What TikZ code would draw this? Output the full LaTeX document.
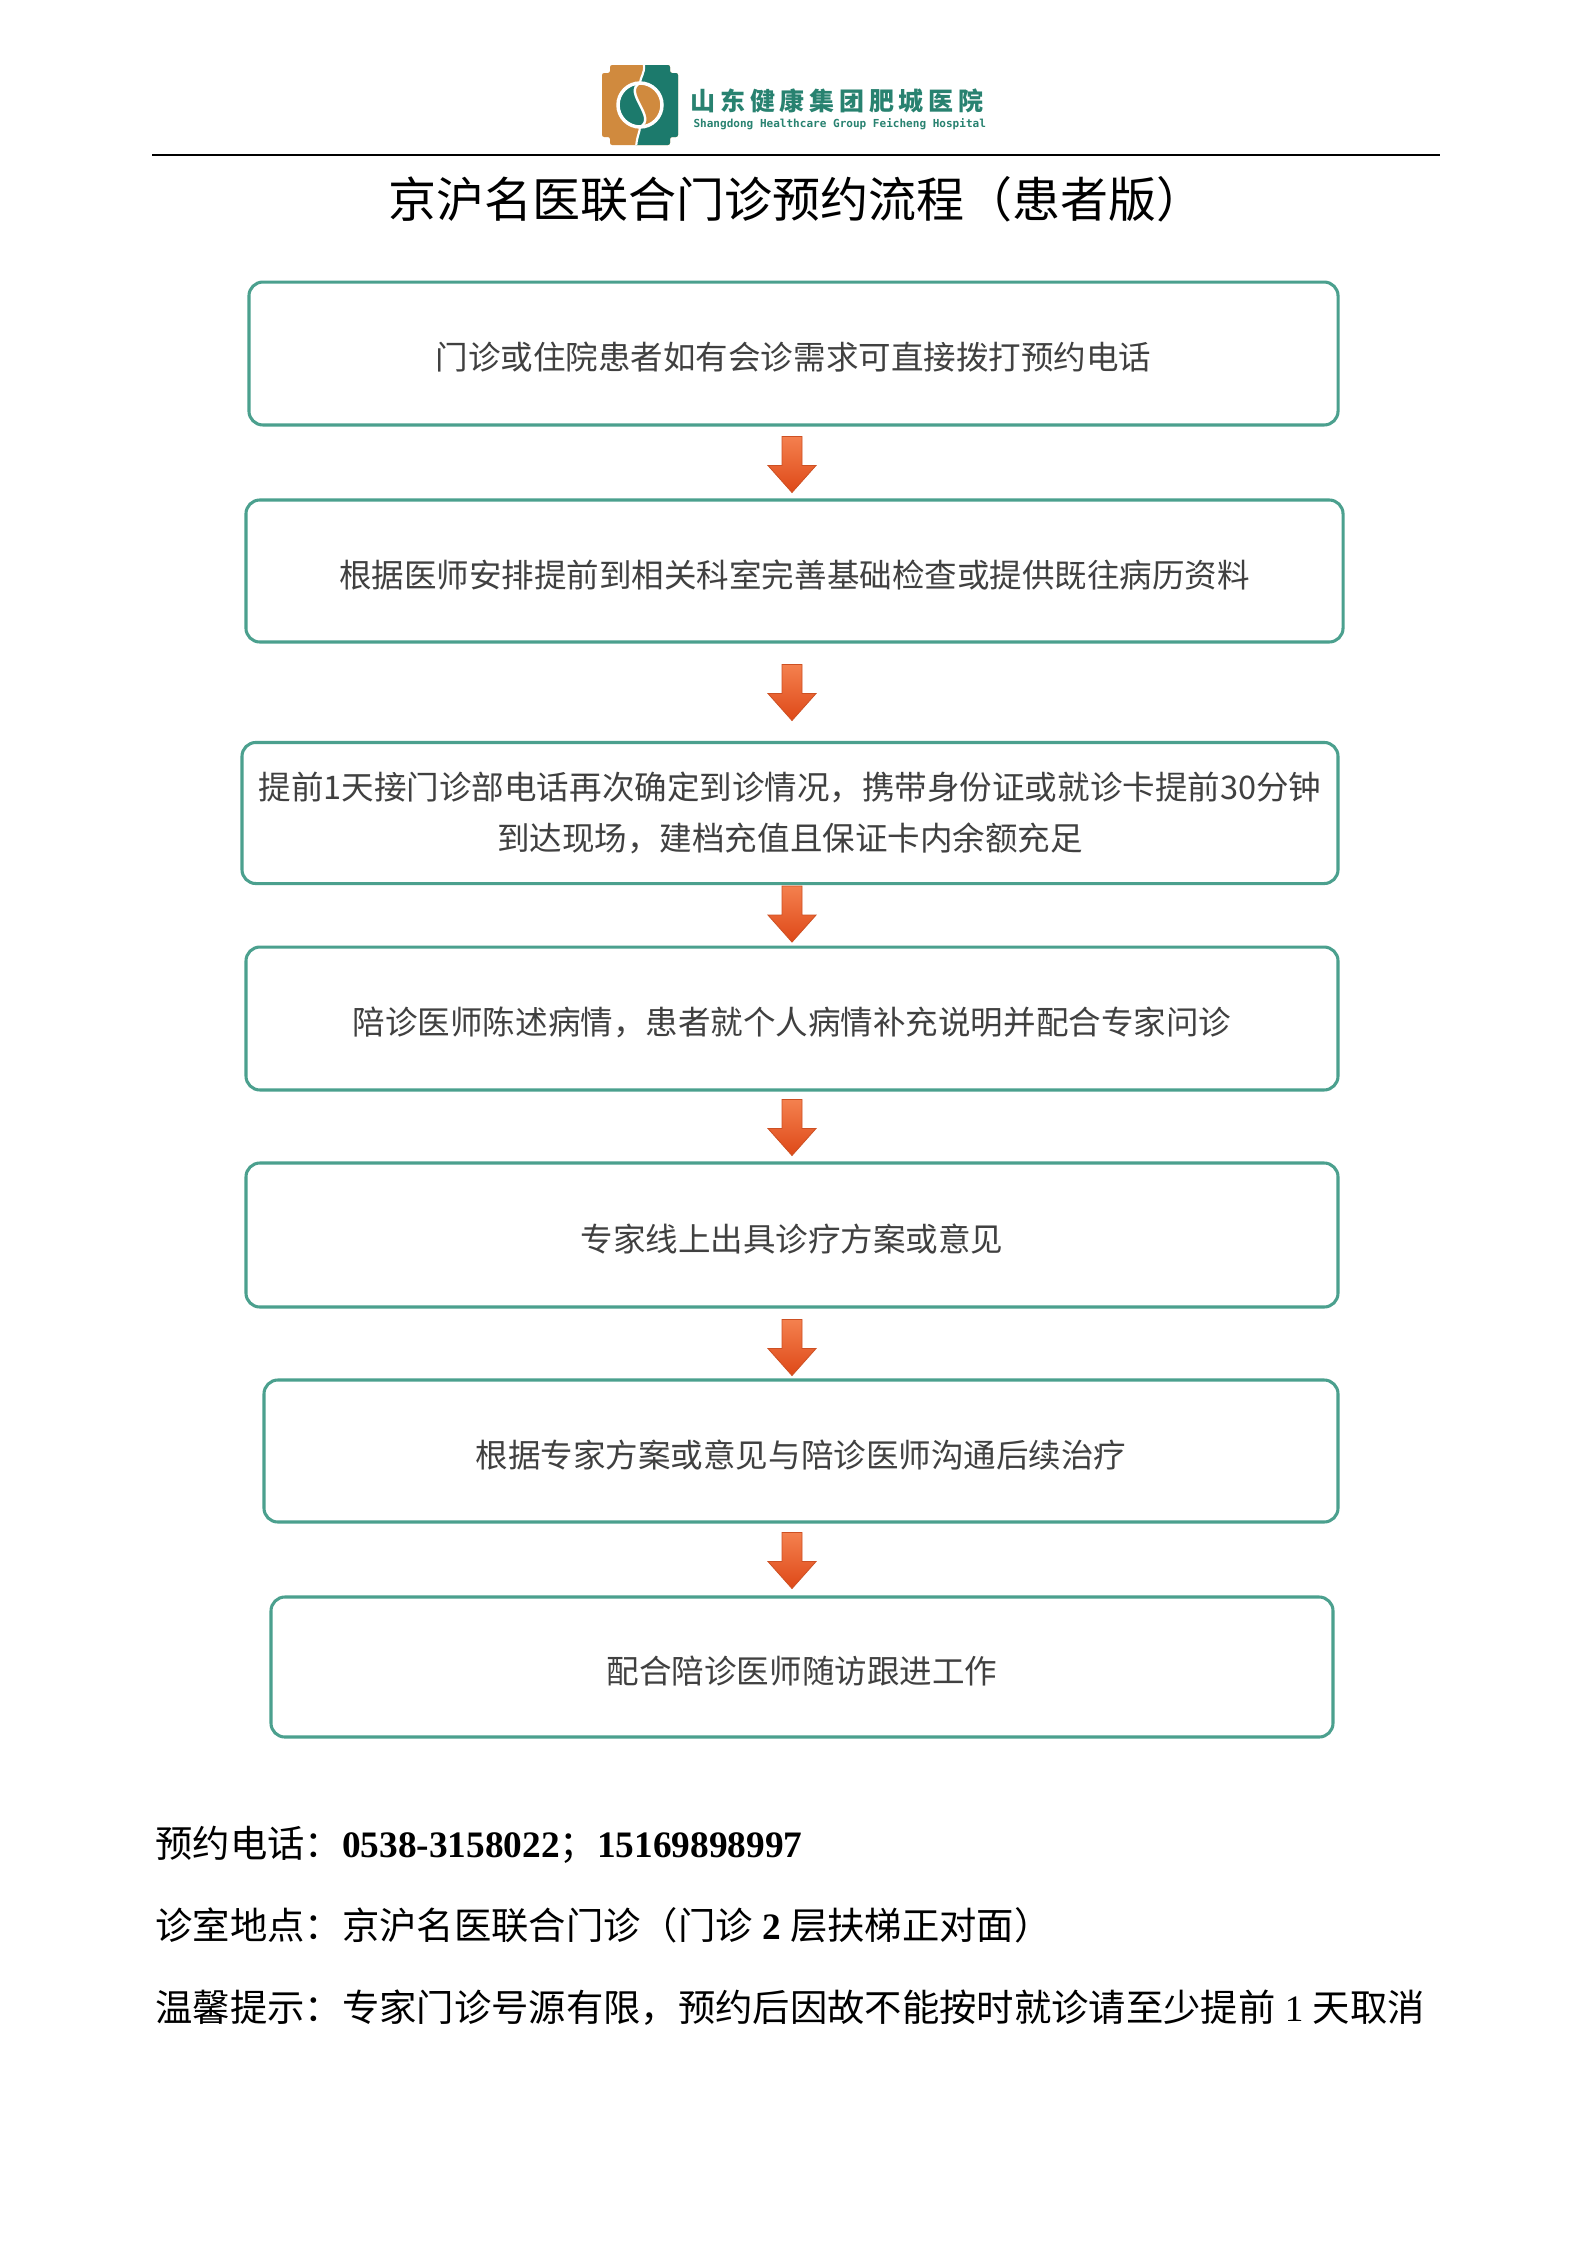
\documentclass[tikz,border=0pt]{standalone}
\usepackage{fontspec}
\setmainfont{Liberation Serif}
\newfontfamily\cjk{Noto Sans CJK SC}
\newfontfamily\logocjk{Noto Sans CJK SC}[LetterSpace=19]
\newfontfamily\logomono{DejaVu Sans Mono}
\usetikzlibrary{calc}
\definecolor{boxline}{RGB}{75,160,142}
\definecolor{boxtext}{RGB}{64,64,64}
\definecolor{arrtop}{RGB}{244,128,78}
\definecolor{arrbot}{RGB}{222,72,24}
\definecolor{arrline}{RGB}{205,80,35}
\definecolor{logoor}{RGB}{208,138,62}
\definecolor{logote}{RGB}{28,122,108}
\definecolor{logotx}{RGB}{40,130,112}
\tikzset{
  stepboxbase/.style={draw=boxline, line width=1.15pt, rounded corners=5.2pt, fill=white,
    inner sep=0pt, text=boxtext, align=center},
  stepbox/.style={stepboxbase, font=\cjk\fontsize{12.2pt}{19.1pt}\selectfont,
    text height=13.4pt, text depth=1.2pt},
  stepboxtwo/.style={stepboxbase, font=\cjk\fontsize{12.2pt}{19.1pt}\selectfont},
  blockarrow/.pic={
    \shade[top color=arrtop, bottom color=arrbot, draw=arrline, line width=0.3pt]
      (-10,0) -- (10,0) -- (10,29) -- (24,29) -- (0,56) -- (-24,29) -- (-10,29) -- cycle;
  },
  bottomtext/.style={anchor=base west, inner sep=0pt, font=\fontsize{14pt}{16pt}\selectfont},
}
\begin{document}
\begin{tikzpicture}[x=0.375pt, y=-0.375pt]
\useasboundingbox (0,0) rectangle (1587,2245);
\fill[white] (0,0) rectangle (1587,2245);

% ---- logo emblem ----
\begin{scope}
  \clip[rounded corners=0.8pt] (610,65) -- (670,65) -- (670,73) -- (678,73) -- (678,137)
    -- (670,137) -- (670,145) -- (610,145) -- (610,137) -- (602,137) -- (602,73) -- (610,73) -- cycle;
  \fill[logoor] (598,60) rectangle (682,150);
  \fill[logote] (644,60) -- (644,65) .. controls (645,73) and (640,78) .. (640,83)
    arc[start angle=-90, end angle=90, radius=22]
    .. controls (640,132) and (636,138) .. (636,150) -- (682,150) -- (682,60) -- cycle;
  \fill[logoor] (640,105) circle[radius=22];
  \fill[logote] (640,83) .. controls (622,92) and (658,118) .. (640,127)
    arc[start angle=90, end angle=270, radius=22] -- cycle;
  \draw[white, line width=1.3pt] (640,105) circle[radius=22];
  \draw[white, line width=0.9pt] (640,83) .. controls (622,92) and (658,118) .. (640,127);
  \draw[white, line width=0.8pt] (644,60) -- (644,65) .. controls (645,73) and (640,78) .. (640,83);
  \draw[white, line width=0.8pt] (640,127) .. controls (640,132) and (636,138) .. (636,150);
\end{scope}
\node[anchor=base west, inner sep=0pt, text=logotx, font=\logocjk\bfseries\fontsize{9.375pt}{11pt}\selectfont]
  (logoname) at (690,110.5) {山东健康集团肥城医院};
\node[anchor=base west, inner sep=0pt, text=logotx, font=\logomono\bfseries\fontsize{4.14pt}{5pt}\selectfont]
  (logosub) at (693,127.5) {Shangdong Healthcare Group Feicheng Hospital};

% ---- header rule and title ----
\draw[line width=1.1pt, black] (152,155) -- (1440,155);
\node[anchor=base west, inner sep=0pt, font=\cjk\fontsize{18pt}{20pt}\selectfont]
  (title) at (388,217) {京沪名医联合门诊预约流程（患者版）};

% ---- steps ----
\node[stepbox, minimum width=408.4pt, minimum height=53.6pt] (b1) at (793.5,353.5)
  {门诊或住院患者如有会诊需求可直接拨打预约电话};
\node[stepbox, minimum width=411.4pt, minimum height=53.25pt] (b2) at (794.5,571)
  {根据医师安排提前到相关科室完善基础检查或提供既往病历资料};
\node[stepboxtwo, minimum width=411pt, minimum height=52.9pt] (b3) at (790,813)
  {提前1天接门诊部电话再次确定到诊情况，携带身份证或就诊卡提前30分钟\\到达现场，建档充值且保证卡内余额充足};
\node[stepbox, minimum width=409.5pt, minimum height=53.6pt] (b4) at (792,1018.5)
  {陪诊医师陈述病情，患者就个人病情补充说明并配合专家问诊};
\node[stepbox, minimum width=409.5pt, minimum height=54pt] (b5) at (792,1235)
  {专家线上出具诊疗方案或意见};
\node[stepbox, minimum width=402.75pt, minimum height=53.25pt] (b6) at (801,1451)
  {根据专家方案或意见与陪诊医师沟通后续治疗};
\node[stepbox, minimum width=398.25pt, minimum height=52.5pt] (b7) at (802,1667)
  {配合陪诊医师随访跟进工作};

% ---- arrows ----
\coordinate (ax) at (792,0);
\pic at ($(b1.south -| ax)+(0,10)$) {blockarrow};
\pic at ($(b2.south -| ax)+(0,21)$) {blockarrow};
\pic at ($(b3.south -| ax)+(0,1)$) {blockarrow};
\pic at ($(b4.south -| ax)+(0,8)$) {blockarrow};
\pic at ($(b5.south -| ax)+(0,11)$) {blockarrow};
\pic at ($(b6.south -| ax)+(0,9)$) {blockarrow};

% ---- bottom notes ----
\node[bottomtext] (phone) at (155,1857)
  {{\cjk 预约电话：}\textbf{0538-3158022}{\cjk ；}\textbf{15169898997}};
\node[bottomtext] (place) at (155,1939)
  {{\cjk 诊室地点：京沪名医联合门诊（门诊} \textbf{2} {\cjk 层扶梯正对面）}};
\node[bottomtext] (tips) at (155,2021)
  {{\cjk 温馨提示：专家门诊号源有限，预约后因故不能按时就诊请至少提前} 1 {\cjk 天取消}};
\end{tikzpicture}
\end{document}
